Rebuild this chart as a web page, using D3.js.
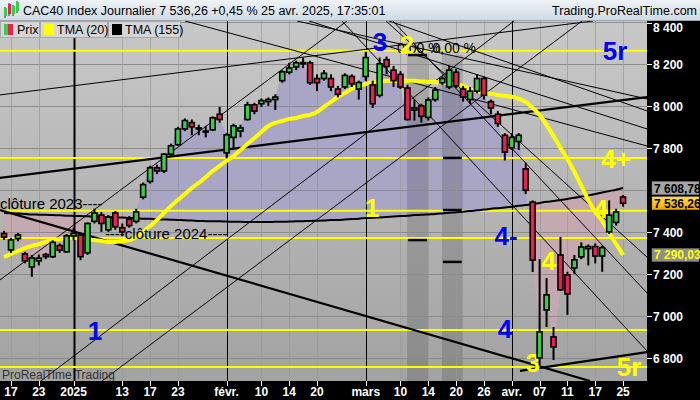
<!DOCTYPE html>
<html><head><meta charset="utf-8">
<script src="https://cdn.jsdelivr.net/npm/d3@7/dist/d3.min.js"></script>
<style>
html,body{margin:0;padding:0;background:#000;}
svg{display:block;}
text{font-family:"Liberation Sans",Arial,sans-serif;}
</style></head>
<body>
<svg id="chart" width="700" height="400"></svg>
<script>
// ---------------- DATA ----------------
const dates = ["2024-12-16","2024-12-17","2024-12-18","2024-12-19","2024-12-20","2024-12-23","2024-12-24","2024-12-27","2024-12-30","2024-12-31",
"2025-01-02","2025-01-03","2025-01-06","2025-01-07","2025-01-08","2025-01-09","2025-01-10","2025-01-13","2025-01-14","2025-01-15",
"2025-01-16","2025-01-17","2025-01-20","2025-01-21","2025-01-22","2025-01-23","2025-01-24","2025-01-27","2025-01-28","2025-01-29",
"2025-01-30","2025-01-31","2025-02-03","2025-02-04","2025-02-05","2025-02-06","2025-02-07","2025-02-10","2025-02-11","2025-02-12",
"2025-02-13","2025-02-14","2025-02-17","2025-02-18","2025-02-19","2025-02-20","2025-02-21","2025-02-24","2025-02-25","2025-02-26",
"2025-02-27","2025-02-28","2025-03-03","2025-03-04","2025-03-05","2025-03-06","2025-03-07","2025-03-10","2025-03-11","2025-03-12",
"2025-03-13","2025-03-14","2025-03-17","2025-03-18","2025-03-19","2025-03-20","2025-03-21","2025-03-24","2025-03-25","2025-03-26",
"2025-03-27","2025-03-28","2025-03-31","2025-04-01","2025-04-02","2025-04-03","2025-04-04","2025-04-07","2025-04-08","2025-04-09",
"2025-04-10","2025-04-11","2025-04-14","2025-04-15","2025-04-16","2025-04-17","2025-04-22","2025-04-23","2025-04-24","2025-04-25"];

const open  = [7392,7314,7368,7295,7233,7262,7292,7282,7335,7305, 7380,7385,7300,7450,7480,7410,7490,7420,7460,7450,
 7565,7640,7705,7690,7770,7815,7890,7920,7895,7880, 7886,7960,7776,7850,7880,7935,8005,8010,8020,8030,
 8120,8160,8185,8200,8205,8130,8130,8130,8080,8090, 8140,8080,8140,8100,8050,8220,8170,8150,8085,7980,
 8000,7945,8030,8110,8090,8160,8080,8030,8070,8130, 8020,7960,7860,7800,7830,7700,7542,6800,7028,6900,
 7290,7195,7228,7281,7320,7330,7285,7400,7445,7566];
const high  = [7405,7372,7395,7305,7290,7292,7300,7360,7345,7390, 7420,7395,7445,7510,7495,7480,7500,7440,7475,7510,
 7635,7715,7720,7775,7820,7900,7940,7935,7910,7905, 7950,7995,7870,7915,7910,8020,8015,8035,8040,8055,
 8170,8205,8215,8230,8215,8150,8170,8150,8095,8155, 8150,8120,8257,8120,8230,8235,8190,8165,8100,8030,
 8010,8040,8090,8140,8190,8175,8095,8090,8150,8140, 8030,7975,7870,7870,7870,7730,7550,7270,7180,6947,
 7376,7210,7290,7350,7340,7345,7335,7550,7510,7575];
const low   = [7362,7300,7355,7250,7186,7240,7270,7275,7300,7300, 7360,7265,7290,7440,7400,7400,7410,7380,7420,7440,
 7555,7630,7675,7680,7760,7810,7880,7860,7860,7850, 7880,7920,7750,7800,7850,7930,7960,7995,8000,7980,
 8110,8150,8170,8180,8100,8070,8120,8070,8040,8080, 8090,8030,8120,7990,8040,8150,8090,8080,7930,7930,
 7920,7930,8020,8100,8080,8085,8020,8010,8060,8030, 7960,7900,7740,7790,7790,7580,7209,6763,6947,6790,
 7120,7005,7200,7270,7240,7250,7210,7390,7430,7520];
const close = [7375,7362,7385,7262,7276,7275,7282,7350,7313,7381, 7393,7282,7440,7490,7440,7470,7424,7400,7430,7495,
 7625,7705,7690,7770,7810,7890,7930,7900,7890,7875, 7943,7935,7862,7905,7895,8005,7975,8025,8030,8042,
 8162,8180,8205,8206,8110,8110,8155,8090,8055,8145, 8105,8111,8230,8010,8200,8187,8120,8090,7935,7990,
 7950,8028,8075,8130,8170,8095,8042,8070,8130,8050, 7990,7916,7780,7850,7860,7598,7266,6924,7100,6852,
 7124,7104,7267,7328,7330,7285,7325,7480,7495,7536.26];

const tma20 = [7280,7295,7309,7323,7333,7342,7352,7361,7366,7371, 7371,7371,7366,7361,7357,7352,7352,7357,7361,7376,
 7400,7428,7457,7490,7523,7552,7580,7609,7633,7661, 7690,7714,7738,7761,7790,7819,7847,7876,7904,7919,
 7928,7938,7942,7952,7957,7971,7995,8019,8042,8061, 8080,8095,8104,8114,8116,8119,8119,8119,8119,8119,
 8116,8114,8114,8111,8109,8104,8095,8080,8071,8061, 8057,8052,8047,8043,8033,8019,7990,7957,7909,7857,
 7800,7747,7685,7619,7552,7495,7452,7395,7342,7290.03];
const tma155 = [7490,7489,7487,7485,7483,7482,7481,7480,7479,7477, 7476,7475,7474,7472,7471,7470,7469,7468,7466,7465,
 7463,7462,7460,7459,7458,7457,7455,7454,7452,7451, 7450,7450,7449,7448,7448,7447,7447,7447,7447,7448,
 7448,7449,7450,7451,7452,7453,7454,7456,7457,7459, 7461,7463,7466,7467,7469,7471,7473,7475,7477,7480,
 7481,7483,7485,7488,7491,7494,7496,7499,7503,7506, 7510,7513,7516,7520,7524,7528,7532,7538,7543,7547,
 7552,7557,7562,7568,7573,7580,7587,7594,7601,7608.78];

const yTickValues = [8400,8200,8000,7800,7400,7200,7000,6800];
const yTickLabels = ["8 400","8 200","8 000","7 800","7 400","7 200","7 000","6 800"];
const yGridValues = [8400,8200,8000,7800,7600,7400,7200,7000,6800];

const xTickIdx    = [1,5,10,17,21,25,32,37,41,45,52,57,61,65,69,73,77,81,85,89];
const xTickLabels = ["17","23","2025","13","17","23","févr.","10","14","20","mars","10","14","20","26","avr.","07","11","17","25"];
const monthStartIdx = [10,32,52,73];

const levels = [8262,7752,7500,7371,6933,6757];

// trend lines [idx1, price1, idx2, price2]
const thickLines = [[-0.58,7657,92.44,8042],[-0.58,7504,84.25,6690],[74.18,6738,92.44,6828]];
const thinLines = [
 [26.02,8404,92.44,7809],[42.12,8404,92.44,8033],[43.85,8404,92.44,7890],[55.35,8404,92.44,7976],
 [48.59,8404,92.44,6833],[55.92,8404,92.44,7109],[54.92,8404,92.44,7280],
 [-0.58,7171,49.31,8404],[5.31,6690,73.32,8404],[14.08,6690,83.1,8404],[-0.58,8052,84.68,8404]
];
// time zones [idxStart, idxEnd, topPrice], bars [zone, price]
const zones = [[57.95,60.95,8242],[62.95,65.95,8242]];
const zoneBars = [[0,8242],[0,7361],[1,7752],[1,7504],[1,7257]];

const waveLabels = [
 {t:"1",idx:13.08,p:6885,c:"#0000ff"},{t:"3",idx:54.06,p:8261,c:"#0000ff"},{t:"5r",idx:87.84,p:8218,c:"#0000ff"},
 {t:"4-",idx:72.17,p:7338,c:"#0000ff"},{t:"4",idx:72.03,p:6895,c:"#0000ff"},
 {t:"2",idx:57.94,p:8245,c:"#ffff00"},{t:"1",idx:52.9,p:7471,c:"#ffff00"},{t:"4+",idx:87.99,p:7704,c:"#ffff00"},
 {t:"4-",idx:78.93,p:7219,c:"#ffff00"},{t:"4",idx:85.8,p:7466,c:"#ffff00"},{t:"3",idx:76.05,p:6733,c:"#ffff00"},{t:"5r",idx:89.86,p:6714,c:"#ffff00"}
];
const pctLabels = [{t:"0,00 %",idx:56.5,p:8250},{t:"0,00 %",idx:61.6,p:8250}];
const closeLabels = [{t:"clôture 2023----",idx:-0.58,p:7510},{t:"----clôture 2024----",idx:14.5,p:7367}];

// ---------------- CHART ----------------
const svg = d3.select("#chart");
const PL=0, PR=647, PT=21, PB=381;
const x = d3.scaleLinear().domain([-0.58, 92.44]).range([PL, PR]);
const y = d3.scaleLinear().domain([6690, 8404]).range([PB, PT]);
const idx = d3.range(dates.length);

const defs = svg.append("defs");
const bg = defs.append("linearGradient").attr("id","bgG").attr("x1",0).attr("y1",0).attr("x2",0).attr("y2",1);
bg.append("stop").attr("offset","0%").attr("stop-color","#c8c8c8");
bg.append("stop").attr("offset","100%").attr("stop-color","#a2a2a2");
const tg = defs.append("linearGradient").attr("id","tG").attr("x1",0).attr("y1",0).attr("x2",0).attr("y2",1);
tg.append("stop").attr("offset","0%").attr("stop-color","#eef3f7");
tg.append("stop").attr("offset","100%").attr("stop-color","#cfd9e3");
const og = defs.append("linearGradient").attr("id","oG").attr("x1",0).attr("y1",0).attr("x2",0).attr("y2",1);
og.append("stop").attr("offset","0%").attr("stop-color","#ffe040");
og.append("stop").attr("offset","100%").attr("stop-color","#f0a800");
defs.append("clipPath").attr("id","plotClip").append("rect").attr("x",PL).attr("y",PT).attr("width",PR-PL).attr("height",PB-PT);
defs.append("clipPath").attr("id","aboveClip").append("path")
  .attr("d", d3.area().x(i=>x(i)).y0(PT).y1(i=>y(tma155[i]))(idx));
defs.append("clipPath").attr("id","belowClip").append("path")
  .attr("d", d3.area().x(i=>x(i)).y0(PB).y1(i=>y(tma155[i]))(idx));

svg.append("rect").attr("width",700).attr("height",400).attr("fill","#000");
const plot = svg.append("g").attr("clip-path","url(#plotClip)");
plot.append("rect").attr("x",PL).attr("y",PT).attr("width",PR-PL).attr("height",PB-PT).attr("fill","url(#bgG)");

const cloud = d3.area().x(i=>x(i)).y0(i=>y(tma155[i])).y1(i=>y(close[i]));
plot.append("path").attr("d",cloud(idx)).attr("fill","#a9a5c5").attr("clip-path","url(#aboveClip)");
plot.append("path").attr("d",cloud(idx)).attr("fill","#c4a9b1").attr("clip-path","url(#belowClip)");

plot.selectAll(".zone").data(zones).enter().append("rect")
  .attr("x",d=>x(d[0])).attr("width",d=>x(d[1])-x(d[0]))
  .attr("y",d=>y(d[2])).attr("height",d=>PB-y(d[2]))
  .attr("fill","#000").attr("opacity",0.14);

plot.selectAll(".hg").data(yGridValues).enter().append("line")
  .attr("x1",PL).attr("x2",PR).attr("y1",d=>Math.round(y(d))+0.5).attr("y2",d=>Math.round(y(d))+0.5)
  .attr("stroke","#8c8c8c").attr("stroke-width",1);
plot.selectAll(".vg").data(xTickIdx.filter(i=>!monthStartIdx.includes(i))).enter().append("line")
  .attr("x1",d=>Math.round(x(d))+0.5).attr("x2",d=>Math.round(x(d))+0.5).attr("y1",PT).attr("y2",PB)
  .attr("stroke","#999").attr("stroke-width",1).attr("opacity",0.7);
plot.selectAll(".ms").data(monthStartIdx).enter().append("line")
  .attr("x1",d=>Math.round(x(d))+0.5).attr("x2",d=>Math.round(x(d))+0.5).attr("y1",PT).attr("y2",PB)
  .attr("stroke","#000").attr("stroke-width",(d,i)=>i===0?2:1);

plot.selectAll(".lv").data(levels).enter().append("line")
  .attr("x1",PL).attr("x2",PR).attr("y1",d=>y(d)).attr("y2",d=>y(d))
  .attr("stroke","#ffff00").attr("stroke-width",2);

plot.selectAll(".tl").data(thinLines).enter().append("line")
  .attr("x1",d=>x(d[0])).attr("y1",d=>y(d[1])).attr("x2",d=>x(d[2])).attr("y2",d=>y(d[3]))
  .attr("stroke","#000").attr("stroke-width",1);
plot.selectAll(".tk").data(thickLines).enter().append("line")
  .attr("x1",d=>x(d[0])).attr("y1",d=>y(d[1])).attr("x2",d=>x(d[2])).attr("y2",d=>y(d[3]))
  .attr("stroke","#000").attr("stroke-width",2.2);

plot.append("path").attr("d",d3.line().x(i=>x(i)).y(i=>y(tma155[i])).curve(d3.curveMonotoneX)(idx))
  .attr("fill","none").attr("stroke","#000").attr("stroke-width",2);
plot.append("path").attr("d",d3.line().x(i=>x(i)).y(i=>y(tma20[i])).curve(d3.curveMonotoneX)(idx))
  .attr("fill","none").attr("stroke","#ffff00").attr("stroke-width",4);

plot.selectAll(".cl").data(closeLabels).enter().append("text")
  .attr("x",d=>x(d.idx)).attr("y",d=>y(d.p)).attr("font-size",15).attr("fill","#000").text(d=>d.t);
plot.selectAll(".pc").data(pctLabels).enter().append("text")
  .attr("x",d=>x(d.idx)).attr("y",d=>y(d.p)).attr("font-size",14).attr("fill","#000").text(d=>d.t);
plot.selectAll(".wl").data(waveLabels).enter().append("text")
  .attr("x",d=>x(d.idx)).attr("y",d=>y(d.p)).attr("text-anchor","middle")
  .attr("font-size",26).attr("font-weight","bold").attr("fill",d=>d.c).text(d=>d.t);

const cg = plot.append("g");
cg.selectAll(".wk").data(idx).enter().append("line")
  .attr("x1",i=>x(i)).attr("x2",i=>x(i)).attr("y1",i=>y(high[i])).attr("y2",i=>y(low[i]))
  .attr("stroke","#000").attr("stroke-width",2);
cg.selectAll(".bd").data(idx).enter().append("rect")
  .attr("x",i=>x(i)-2.5).attr("width",5)
  .attr("y",i=>y(Math.max(open[i],close[i])))
  .attr("height",i=>Math.max(1,Math.abs(y(open[i])-y(close[i]))))
  .attr("fill",i=>close[i]>=open[i]?"#3ccc4a":"#e8224e")
  .attr("stroke","#000").attr("stroke-width",1.6);

plot.selectAll(".zb").data(zoneBars).enter().append("line")
  .attr("x1",d=>x(zones[d[0]][0])+1).attr("x2",d=>x(zones[d[0]][1])-1)
  .attr("y1",d=>y(d[1])).attr("y2",d=>y(d[1])).attr("stroke","#000").attr("stroke-width",2.5);

plot.append("text").attr("x",2).attr("y",379).attr("font-size",12).attr("fill","#333").text("ProRealTime Trading");

// ---------------- TITLE & LEGEND ----------------
svg.append("rect").attr("x",0).attr("y",0).attr("width",700).attr("height",21).attr("fill","url(#tG)");
svg.append("line").attr("x1",0).attr("x2",700).attr("y1",20.5).attr("y2",20.5).attr("stroke","#9aa6b2");
const icon = svg.append("g");
[[4,8,2,8,"#3ccc4a"],[8,4,2,10,"#e8224e"],[12,6,2,8,"#3ccc4a"],[16,2,2,9,"#3ccc4a"]].forEach(r=>{
  icon.append("line").attr("x1",r[0]+1).attr("x2",r[0]+1).attr("y1",r[1]-1).attr("y2",r[1]+r[3]+2).attr("stroke","#333");
  icon.append("rect").attr("x",r[0]).attr("y",r[1]).attr("width",r[2]+1).attr("height",r[3]).attr("fill",r[4]);
});
svg.append("text").attr("x",23).attr("y",15).attr("font-size",12.5).attr("fill","#000")
  .text("CAC40 Index Journalier 7 536,26 +0,45 % 25 avr. 2025, 17:35:01");
svg.append("text").attr("x",697).attr("y",15).attr("font-size",12.5).attr("text-anchor","end").attr("fill","#000")
  .text("Trading.ProRealTime.com");

const legend = [{t:"Prix",x0:0,w:39},{t:"TMA (20)",x0:40,w:67},{t:"TMA (155)",x0:108,w:72}];
const lg = svg.append("g");
legend.forEach((d,i)=>{
  lg.append("rect").attr("x",d.x0+0.5).attr("y",21.5).attr("width",d.w).attr("height",16).attr("fill","#d6d6d6").attr("stroke","#a8a8a8");
  if(i===0){
    lg.append("rect").attr("x",d.x0+4).attr("y",24).attr("width",4).attr("height",11).attr("fill","#3ccc4a");
    lg.append("rect").attr("x",d.x0+8).attr("y",24).attr("width",5).attr("height",11).attr("fill","#e8224e");
  } else {
    lg.append("rect").attr("x",d.x0+4).attr("y",24).attr("width",10).attr("height",11).attr("fill",i===1?"#ffff00":"#000");
  }
  lg.append("text").attr("x",d.x0+17).attr("y",34).attr("font-size",12.5).attr("fill","#000").text(d.t);
});

// ---------------- AXES ----------------
const ya = svg.append("g");
yTickValues.forEach((v,i)=>{
  const yy = Math.round(y(v));
  ya.append("line").attr("x1",PR).attr("x2",PR+5).attr("y1",Math.max(yy,23)+0.5).attr("y2",Math.max(yy,23)+0.5).attr("stroke","#fff");
  ya.append("text").attr("x",PR+6).attr("y",Math.max(yy,27)+4.5).attr("font-size",12).attr("font-weight","bold")
    .attr("fill","#fff").text(yTickLabels[i]);
});
const boxes = [
  {v:tma155[tma155.length-1], t:"7 608,78", fill:"#a4a4a4", tc:"#000"},
  {v:close[close.length-1], t:"7 536,26", fill:"url(#oG)", tc:"#000"},
  {v:tma20[tma20.length-1], t:"7 290,03", fill:"#8e8e8e", tc:"#ffff00"}
];
boxes.forEach(b=>{
  const yy = y(b.v);
  ya.append("rect").attr("x",PR+5).attr("y",yy-6.5).attr("width",47).attr("height",13).attr("fill",b.fill).attr("stroke","#777").attr("stroke-width",0.5);
  ya.append("text").attr("x",PR+7).attr("y",yy+4.5).attr("font-size",12).attr("font-weight","bold").attr("fill",b.tc).text(b.t);
});

const xa = svg.append("g");
xTickIdx.forEach((d,i)=>{
  const xx = Math.round(x(d))+0.5;
  xa.append("line").attr("x1",xx).attr("x2",xx).attr("y1",PB).attr("y2",PB+5).attr("stroke","#fff");
  xa.append("text").attr("x",x(d)).attr("y",396).attr("text-anchor","middle").attr("font-size",12)
    .attr("font-weight","bold").attr("fill","#fff").text(xTickLabels[i]);
});
</script>
</body></html>
